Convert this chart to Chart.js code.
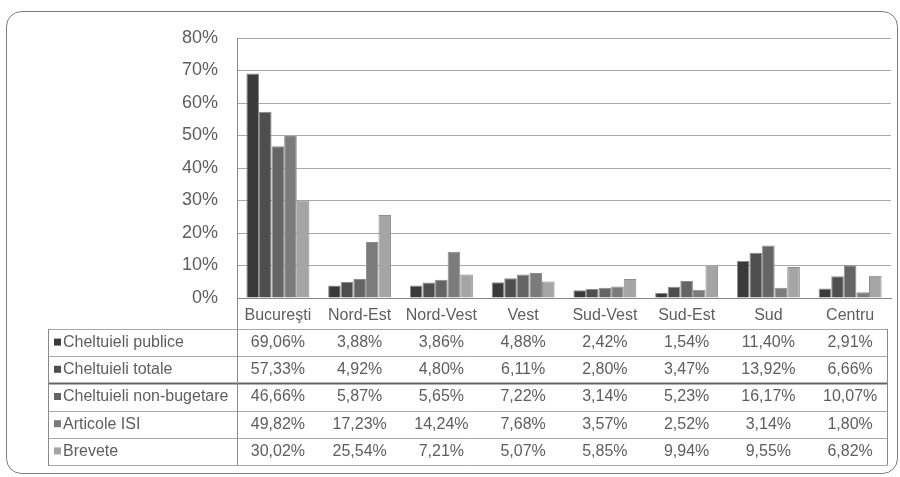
<!DOCTYPE html>
<html>
<head>
<meta charset="utf-8">
<script src="https://cdn.jsdelivr.net/npm/chart.js@4/dist/chart.umd.min.js"></script>
<style>
  html, body { margin: 0; padding: 0; background: #fff; }
  #wrap { position: relative; width: 900px; height: 477px; }
</style>
</head>
<body>
<div id="wrap"><canvas id="grafic" width="900" height="477"></canvas></div>
<script>
const regiuni = ['Bucureşti', 'Nord-Est', 'Nord-Vest', 'Vest', 'Sud-Vest', 'Sud-Est', 'Sud', 'Centru'];

const cheltuieliPublice = [69.06, 3.88, 3.86, 4.88, 2.42, 1.54, 11.40, 2.91];
const cheltuieliTotale = [57.33, 4.92, 4.80, 6.11, 2.80, 3.47, 13.92, 6.66];
const cheltuieliNonBugetare = [46.66, 5.87, 5.65, 7.22, 3.14, 5.23, 16.17, 10.07];
const articoleISI = [49.82, 17.23, 14.24, 7.68, 3.57, 2.52, 3.14, 1.80];
const brevete = [30.02, 25.54, 7.21, 5.07, 5.85, 9.94, 9.55, 6.82];

const serii = ['Cheltuieli publice', 'Cheltuieli totale', 'Cheltuieli non-bugetare', 'Articole ISI', 'Brevete'];
const valori = [cheltuieliPublice, cheltuieliTotale, cheltuieliNonBugetare, articoleISI, brevete];
const culori = ['#3a3a3a', '#4e4e4e', '#656565', '#7b7b7b', '#a5a5a5'];

const textGri = '#5e5e5e';

// tabelul de date de sub grafic, aliniat pe coloanele axei x
const tabelDate = {
  id: 'tabelDate',
  beforeDraw(chart) {
    const ctx = chart.ctx;
    ctx.save();
    ctx.strokeStyle = '#7a7a7a';
    ctx.lineWidth = 1;
    ctx.beginPath();
    ctx.roundRect(6.5, 11.5, 891, 462, 15);
    ctx.stroke();
    ctx.restore();
  },
  afterDraw(chart) {
    const ctx = chart.ctx;
    const x = chart.scales.x;
    const area = chart.chartArea;
    const stanga = 48, dreapta = 887, sus = 329, rand = 27.2;
    ctx.save();

    // linii orizontale
    for (let i = 0; i <= serii.length; i++) {
      const y = Math.round(sus + i * rand) + 0.5;
      ctx.strokeStyle = i === 2 ? '#666' : '#a8a8a8';
      ctx.lineWidth = i === 2 ? 2 : 1;
      ctx.beginPath();
      ctx.moveTo(stanga, y);
      ctx.lineTo(dreapta, y);
      ctx.stroke();
    }
    const jos = Math.round(sus + serii.length * rand) + 0.5;

    // linii verticale
    ctx.strokeStyle = '#8a8a8a';
    ctx.lineWidth = 1;
    ctx.beginPath();
    ctx.moveTo(stanga + 0.5, sus);
    ctx.lineTo(stanga + 0.5, jos);
    ctx.moveTo(Math.round(area.left) + 0.5, area.top);
    ctx.lineTo(Math.round(area.left) + 0.5, jos);
    ctx.moveTo(dreapta + 0.5, sus);
    ctx.lineTo(dreapta + 0.5, jos);
    ctx.stroke();

    ctx.font = '16px "Liberation Sans", Arial, sans-serif';
    ctx.textBaseline = 'middle';
    serii.forEach((nume, i) => {
      const yc = sus + i * rand + rand / 2;
      ctx.fillStyle = culori[i];
      ctx.fillRect(54, yc - 4, 7, 7);
      ctx.fillStyle = textGri;
      ctx.textAlign = 'left';
      ctx.fillText(nume, 63, yc);
      ctx.textAlign = 'center';
      valori[i].forEach((v, j) => {
        const text = v.toFixed(2).replace('.', ',') + '%';
        ctx.fillText(text, x.getPixelForValue(j), yc);
      });
    });
    ctx.restore();
  }
};

new Chart(document.getElementById('grafic'), {
  type: 'bar',
  data: {
    labels: regiuni,
    datasets: serii.map((nume, i) => ({
      label: nume,
      data: valori[i],
      backgroundColor: culori[i],
      borderColor: '#8c8c8c',
      borderWidth: 1,
      barPercentage: 1,
      categoryPercentage: 0.77
    }))
  },
  options: {
    responsive: false,
    animation: false,
    layout: { padding: { top: 38, right: 9, bottom: 149, left: 0 } },
    plugins: {
      legend: { display: false },
      tooltip: { enabled: false }
    },
    scales: {
      x: {
        grid: { display: false, drawTicks: false },
        border: { color: '#8a8a8a' },
        ticks: {
          color: textGri,
          padding: 8,
          font: { family: '"Liberation Sans", Arial, sans-serif', size: 16 }
        },
        afterFit(scale) { scale.height = 30; }
      },
      y: {
        min: 0,
        max: 80,
        grid: { color: '#a8a8a8', drawTicks: false },
        border: { display: false },
        ticks: {
          stepSize: 10,
          color: textGri,
          padding: 19,
          font: { family: '"Liberation Sans", Arial, sans-serif', size: 18 },
          callback: v => v + '%'
        },
        afterFit(scale) { scale.width = 237; }
      }
    }
  },
  plugins: [tabelDate]
});
</script>
</body>
</html>
